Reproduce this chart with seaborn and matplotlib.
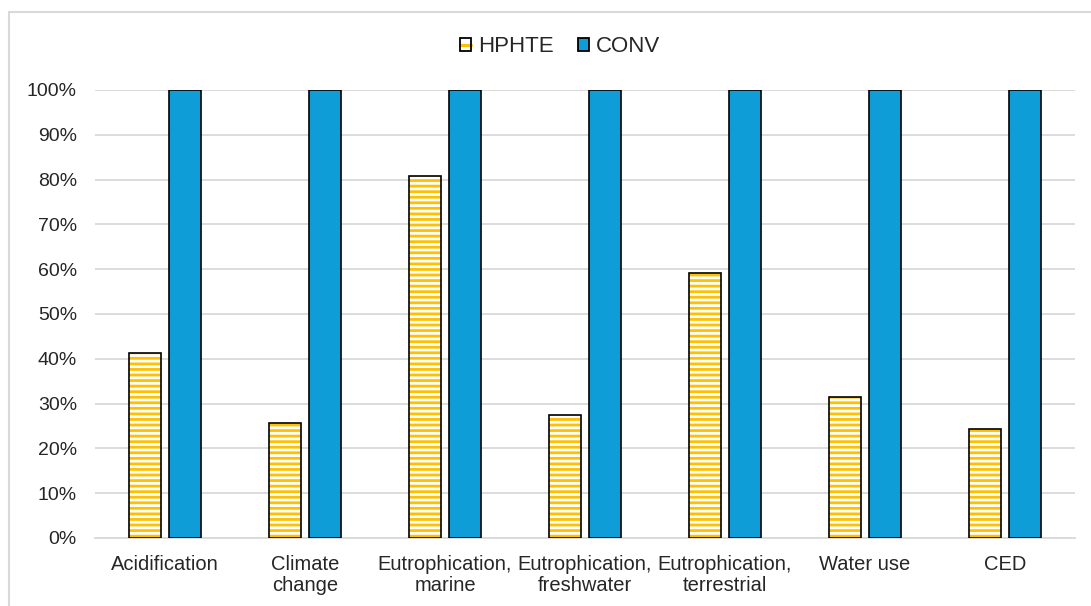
import matplotlib
matplotlib.use("Agg")
import matplotlib.pyplot as plt
from matplotlib.patches import Rectangle
from matplotlib.lines import Line2D
from matplotlib.legend_handler import HandlerTuple
from matplotlib.ticker import PercentFormatter
import seaborn as sns
import pandas as pd

categories = ["Acidification", "Climate\nchange", "Eutrophication,\nmarine",
              "Eutrophication,\nfreshwater", "Eutrophication,\nterrestrial",
              "Water use", "CED"]
hphte = [0.413, 0.257, 0.808, 0.275, 0.592, 0.315, 0.243]
conv = [1.0, 1.0, 1.0, 1.0, 1.0, 1.0, 1.0]
series = ["HPHTE", "CONV"]
yticks = [i / 10 for i in range(11)]

df = pd.DataFrame({
    "category": categories * 2,
    "series": [series[0]] * len(categories) + [series[1]] * len(categories),
    "value": hphte + conv,
})

sns.set_theme(style="white")
plt.rcParams["font.family"] = ["Liberation Sans", "DejaVu Sans"]
plt.rcParams["hatch.linewidth"] = 2.0

yellow = "#FFC000"
blue = "#0E9DD6"
grid = "#D9D9D9"
text = "#262626"

fig = plt.figure(figsize=(10.91, 6.06), dpi=100)
# outer chart frame
fig.patches.append(Rectangle((9 / 1091, -0.1), 1.2, (606 - 12) / 606 + 0.1,
                             transform=fig.transFigure, fill=False,
                             edgecolor=grid, linewidth=1.5))
ax = fig.add_axes([95 / 1091, (606 - 538) / 606, 980 / 1091, 448 / 606])

sns.barplot(data=df, x="category", y="value", hue="series",
            palette={"HPHTE": "white", "CONV": blue}, saturation=1,
            width=0.58, gap=0.21, ax=ax, legend=False, zorder=3)

n = len(categories)
bars = list(ax.patches)
for i, p in enumerate(bars):
    if i < n:
        # yellow horizontal stripes on white, with a black outline on top
        p.set_facecolor("white")
        p.set_edgecolor(yellow)
        p.set_hatch("---")
        p.set_linewidth(0)
        ax.add_patch(Rectangle(p.get_xy(), p.get_width(), p.get_height(),
                               fill=False, edgecolor="black", linewidth=1.2,
                               zorder=4))
    else:
        p.set_facecolor(blue)
        p.set_edgecolor("black")
        p.set_linewidth(1.2)

ax.set_xlim(-0.5, n - 0.5)
ax.set_ylim(0, 1)
ax.set_yticks(yticks)
ax.yaxis.set_major_formatter(PercentFormatter(1.0, decimals=0))
ax.grid(axis="y", color=grid, linewidth=1.3, zorder=0)
ax.set_axisbelow(True)
for s in ["top", "right", "left"]:
    ax.spines[s].set_visible(False)
ax.spines["bottom"].set_color(grid)
ax.spines["bottom"].set_linewidth(1.3)
ax.tick_params(axis="both", length=0, colors=text)
ax.tick_params(axis="y", pad=13, labelsize=14)
ax.tick_params(axis="x", pad=12, labelsize=14.5)
ax.set_xlabel("")
ax.set_ylabel("")
for lbl in ax.get_xticklabels():
    lbl.set_linespacing(1.15)

h_hphte = (Rectangle((0, 0), 1, 1, facecolor="white", edgecolor="none"),
           Line2D([], [], color=yellow, linewidth=2.2),
           Rectangle((0, 0), 1, 1, fill=False, edgecolor="black", linewidth=1.3))
h_conv = Rectangle((0, 0), 1, 1, facecolor=blue, edgecolor="black", linewidth=1.3)
leg = fig.legend([h_hphte, h_conv], series, loc="center",
                 bbox_to_anchor=(560 / 1091, 1 - 47 / 606),
                 handler_map={tuple: HandlerTuple(ndivide=1, pad=0)},
                 ncol=2, frameon=False, fontsize=16, handlelength=0.5,
                 handleheight=0.55, handletextpad=0.3, columnspacing=1.1)
for t in leg.get_texts():
    t.set_color(text)

fig.savefig("out.png", dpi=100)
